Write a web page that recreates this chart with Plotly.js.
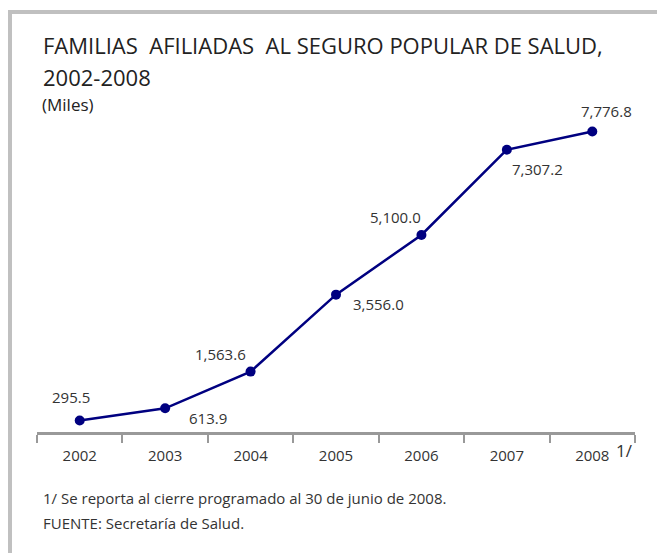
<!DOCTYPE html>
<html><head><meta charset="utf-8">
<script src="https://cdn.plot.ly/plotly-3.0.1.min.js"></script>
<style>
html,body{margin:0;padding:0;background:#fff;}
#wrap{position:relative;width:657px;height:553px;overflow:hidden;}
#chart{width:657px;height:553px;}
#frame{position:absolute;left:8px;top:10px;width:700px;height:600px;border-top:4px solid #c0c0c0;border-left:4px solid #c0c0c0;pointer-events:none;}
</style></head>
<body>
<div id="wrap"><div id="chart"></div><div id="frame"></div></div>
<script>
const years = ["2002","2003","2004","2005","2006","2007","2008"];
const values = [295.5, 613.9, 1563.6, 3556.0, 5100.0, 7307.2, 7776.8];
const labels = ["295.5","613.9","1,563.6","3,556.0","5,100.0","7,307.2","7,776.8"];
const labelDx = [-9, 43, -30, 42, -26, 31, 14];
const labelDy = [-24, 10, -18, 9, -18, 19, -21];

const W = 657, H = 553, L = 37, R = 22, T = 100, B = 121;
const pw = W - L - R, ph = H - T - B;
const px = x => (x - L) / pw;
const py = y => (H - B - y) / ph;
const FONT = "Open Sans, Noto Sans, sans-serif";

const annotations = values.map((v, i) => ({
  x: i, y: v, xref: 'x', yref: 'y', text: labels[i], showarrow: false,
  xshift: labelDx[i], yshift: -labelDy[i],
  font: {family: FONT, size: 15, color: '#333'}
}));
annotations.push(
  {xref:'paper', yref:'paper', x: px(41), y: py(45), xanchor:'left', yanchor:'middle', showarrow:false,
   text:'FAMILIAS  AFILIADAS  AL SEGURO POPULAR DE SALUD,', font:{family:FONT, size:22, color:'#222'}},
  {xref:'paper', yref:'paper', x: px(41), y: py(77), xanchor:'left', yanchor:'middle', showarrow:false,
   text:'2002-2008', font:{family:FONT, size:22, color:'#222'}},
  {xref:'paper', yref:'paper', x: px(40), y: py(105), xanchor:'left', yanchor:'middle', showarrow:false,
   text:'(Miles)', font:{family:FONT, size:17, color:'#222'}},
  {xref:'paper', yref:'paper', x: px(614), y: py(450), xanchor:'left', yanchor:'middle', showarrow:false,
   text:'1/', font:{family:FONT, size:17, color:'#333'}},
  {xref:'paper', yref:'paper', x: px(41), y: py(498), xanchor:'left', yanchor:'middle', showarrow:false,
   text:'1/ Se reporta al cierre programado al 30 de junio de 2008.', font:{family:FONT, size:15, color:'#333'}},
  {xref:'paper', yref:'paper', x: px(41), y: py(523), xanchor:'left', yanchor:'middle', showarrow:false,
   text:'FUENTE: Secretaría de Salud.', font:{family:FONT, size:15, color:'#333'}}
);

const trace = {
  x: years, y: values, type: 'scatter', mode: 'lines+markers',
  line: {color: '#000080', width: 2.5},
  marker: {color: '#000080', size: 10},
  hoverinfo: 'skip'
};

const layout = {
  width: W, height: H,
  margin: {l: L, r: R, t: T, b: B, pad: 0},
  paper_bgcolor: '#fff', plot_bgcolor: '#fff',
  showlegend: false,
  xaxis: {
    type: 'category', range: [-0.5, 6.5], fixedrange: true,
    showline: true, linecolor: '#999', linewidth: 3,
    ticks: 'outside', tickson: 'boundaries', ticklen: 8, tickwidth: 2, tickcolor: '#999',
    ticklabelstandoff: 8,
    showgrid: false, zeroline: false,
    tickfont: {family: FONT, size: 15, color: '#333'}
  },
  yaxis: {
    range: [0, 8594], visible: false, showgrid: false, zeroline: false, fixedrange: true
  },
  annotations: annotations
};

Plotly.newPlot('chart', [trace], layout, {displayModeBar: false, staticPlot: true});
</script>
</body></html>
